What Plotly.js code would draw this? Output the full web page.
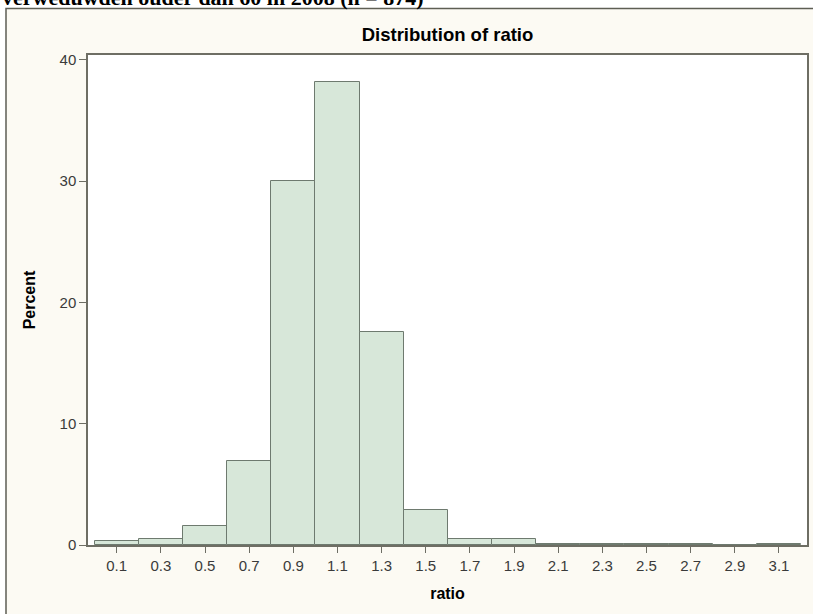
<!DOCTYPE html>
<html>
<head>
<meta charset="utf-8">
<script src="https://cdn.plot.ly/plotly-3.0.1.min.js"></script>
<style>
  html, body { margin: 0; padding: 0; background: #ffffff; }
  #chart { width: 813px; height: 614px; }
</style>
</head>
<body>
<div id="chart"></div>
<script>
// Bin midpoints of ratio (bin width 0.2)
const binMidpoints = [0.1, 0.3, 0.5, 0.7, 0.9, 1.1, 1.3, 1.5, 1.7, 1.9, 2.1, 2.3, 2.5, 2.7, 2.9, 3.1];
// Percent of observations per bin
const percents = [0.3, 0.5, 1.55, 6.95, 30.05, 38.15, 17.55, 2.85, 0.5, 0.5, 0.11, 0.11, 0.11, 0.11, 0, 0.11];
const xTickLabels = ["0.1", "0.3", "0.5", "0.7", "0.9", "1.1", "1.3", "1.5", "1.7", "1.9", "2.1", "2.3", "2.5", "2.7", "2.9", "3.1"];
const yTickValues = [0, 10, 20, 30, 40];
const binWidth = 0.2;

const chartTitle = "Distribution of ratio";
const pageHeading = "verweduwden ouder dan 60 in 2008 (n = 874)";

const sans = "Liberation Sans, Arial, sans-serif";

const trace = {
  type: "bar",
  x: binMidpoints,
  y: percents,
  width: binMidpoints.map(() => binWidth),
  marker: { color: "#d7e7d9", line: { color: "#6e7a6f", width: 1 } },
  hoverinfo: "x+y"
};

const layout = {
  width: 813,
  height: 614,
  margin: { l: 88, r: 6, t: 55, b: 69 },
  paper_bgcolor: "#ffffff",
  plot_bgcolor: "#ffffff",
  showlegend: false,
  bargap: 0,
  title: {
    text: chartTitle,
    font: { family: sans, size: 18.5, color: "#000000", weight: "bold" },
    x: 0.5, xref: "paper", xanchor: "center",
    y: 1 - 35 / 614, yref: "container", yanchor: "middle"
  },
  xaxis: {
    range: [-0.03, 3.227],
    tickmode: "array",
    tickvals: binMidpoints,
    ticktext: xTickLabels,
    ticks: "outside",
    ticklen: 6,
    tickcolor: "#6e6e64",
    showgrid: false,
    zeroline: false,
    showline: true,
    linecolor: "#6e6e64",
    linewidth: 1.5,
    mirror: true,
    tickfont: { family: sans, size: 15, color: "#3a3a3a" },
    title: {
      text: "ratio",
      font: { family: sans, size: 16, color: "#000000", weight: "bold" },
      standoff: 15
    }
  },
  yaxis: {
    range: [0, 40.4],
    tickmode: "array",
    tickvals: yTickValues,
    ticks: "outside",
    ticklen: 7,
    tickcolor: "#6e6e64",
    showgrid: false,
    zeroline: false,
    showline: true,
    linecolor: "#6e6e64",
    linewidth: 1.5,
    mirror: true,
    tickfont: { family: sans, size: 15, color: "#3a3a3a" },
    title: {
      text: "Percent",
      font: { family: sans, size: 16, color: "#000000", weight: "bold" },
      standoff: 20
    }
  },
  shapes: [
    {
      type: "rect", xref: "paper", yref: "paper", layer: "below",
      x0: (6 - 88) / 719, x1: 1.05, y0: -0.25, y1: (545 - 8.5) / 490,
      fillcolor: "#fcfaf3", line: { color: "#5e5e54", width: 1.5 }
    },
    {
      type: "rect", xref: "paper", yref: "paper", layer: "below",
      x0: 0, x1: 1, y0: 0, y1: 1,
      fillcolor: "#ffffff", line: { width: 0 }
    }
  ],
  annotations: [
    {
      text: pageHeading,
      xref: "paper", yref: "paper",
      x: (0 - 88) / 719, xanchor: "left",
      y: (545 - 12.5) / 490, yanchor: "bottom",
      showarrow: false,
      font: { family: "Liberation Serif, Times New Roman, serif", size: 22, color: "#000000", weight: "bold" }
    }
  ]
};

Plotly.newPlot("chart", [trace], layout, { displayModeBar: false });
</script>
</body>
</html>
